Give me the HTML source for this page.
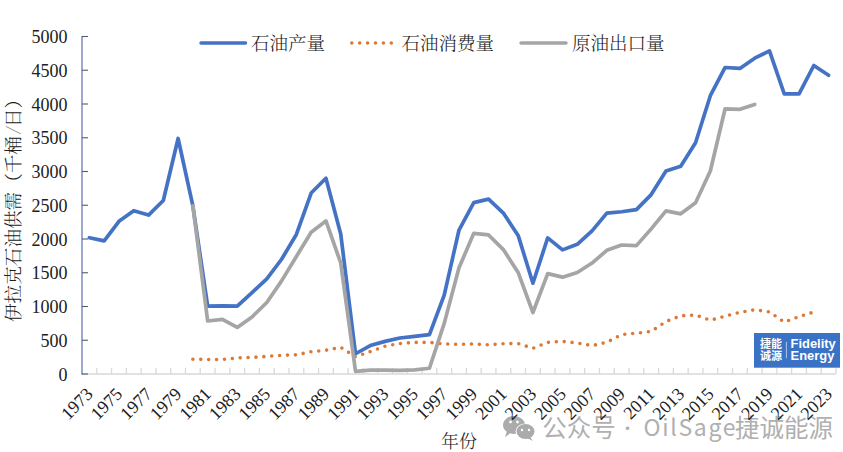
<!DOCTYPE html><html><head><meta charset="utf-8"><style>
html,body{margin:0;padding:0;background:#fff;}
body{width:843px;height:452px;overflow:hidden;position:relative;}
svg{position:absolute;left:0;top:0;}
.t{font-family:'Liberation Serif','Noto Serif CJK SC',serif;fill:#202020;}
.l{font-weight:300;}
</style></head><body>
<svg width="843" height="452" viewBox="0 0 843 452">
<g id="wm" fill="#ababab">
<ellipse cx="514" cy="425" rx="11" ry="9"/>
<path d="M507 431 L505 437 L512 432 Z"/>
<ellipse cx="525.5" cy="431.5" rx="10" ry="8" fill="#fff"/>
<ellipse cx="525.5" cy="431.5" rx="9" ry="7.5"/>
<path d="M530 437 L533 441 L527 438 Z"/>
<circle cx="510.5" cy="422" r="1.4" fill="#fff"/><circle cx="517.5" cy="422" r="1.4" fill="#fff"/>
<circle cx="522" cy="430" r="1.2" fill="#fff"/><circle cx="529" cy="430" r="1.2" fill="#fff"/>
</g>
<g font-family="'Noto Sans CJK SC',sans-serif" fill="#b0b0b0">
<text x="542.3" y="436.6" font-size="24.5">公众号</text>
<text x="627.4" y="434.8" font-size="17" text-anchor="middle">·</text>
<text x="643.5" y="435.6" font-size="23" textLength="92" lengthAdjust="spacing">OilSage</text>
<text x="735" y="436.6" font-size="24.5">捷诚能源</text>
</g>
<g stroke="#D9D9D9" stroke-width="1.3">
<line x1="82" y1="374" x2="836" y2="374"/>
<line x1="96.78" y1="374" x2="96.78" y2="368"/>
<line x1="111.57" y1="374" x2="111.57" y2="368"/>
<line x1="126.35" y1="374" x2="126.35" y2="368"/>
<line x1="141.14" y1="374" x2="141.14" y2="368"/>
<line x1="155.92" y1="374" x2="155.92" y2="368"/>
<line x1="170.71" y1="374" x2="170.71" y2="368"/>
<line x1="185.49" y1="374" x2="185.49" y2="368"/>
<line x1="200.27" y1="374" x2="200.27" y2="368"/>
<line x1="215.06" y1="374" x2="215.06" y2="368"/>
<line x1="229.84" y1="374" x2="229.84" y2="368"/>
<line x1="244.63" y1="374" x2="244.63" y2="368"/>
<line x1="259.41" y1="374" x2="259.41" y2="368"/>
<line x1="274.20" y1="374" x2="274.20" y2="368"/>
<line x1="288.98" y1="374" x2="288.98" y2="368"/>
<line x1="303.76" y1="374" x2="303.76" y2="368"/>
<line x1="318.55" y1="374" x2="318.55" y2="368"/>
<line x1="333.33" y1="374" x2="333.33" y2="368"/>
<line x1="348.12" y1="374" x2="348.12" y2="368"/>
<line x1="362.90" y1="374" x2="362.90" y2="368"/>
<line x1="377.69" y1="374" x2="377.69" y2="368"/>
<line x1="392.47" y1="374" x2="392.47" y2="368"/>
<line x1="407.25" y1="374" x2="407.25" y2="368"/>
<line x1="422.04" y1="374" x2="422.04" y2="368"/>
<line x1="436.82" y1="374" x2="436.82" y2="368"/>
<line x1="451.61" y1="374" x2="451.61" y2="368"/>
<line x1="466.39" y1="374" x2="466.39" y2="368"/>
<line x1="481.18" y1="374" x2="481.18" y2="368"/>
<line x1="495.96" y1="374" x2="495.96" y2="368"/>
<line x1="510.75" y1="374" x2="510.75" y2="368"/>
<line x1="525.53" y1="374" x2="525.53" y2="368"/>
<line x1="540.31" y1="374" x2="540.31" y2="368"/>
<line x1="555.10" y1="374" x2="555.10" y2="368"/>
<line x1="569.88" y1="374" x2="569.88" y2="368"/>
<line x1="584.67" y1="374" x2="584.67" y2="368"/>
<line x1="599.45" y1="374" x2="599.45" y2="368"/>
<line x1="614.24" y1="374" x2="614.24" y2="368"/>
<line x1="629.02" y1="374" x2="629.02" y2="368"/>
<line x1="643.80" y1="374" x2="643.80" y2="368"/>
<line x1="658.59" y1="374" x2="658.59" y2="368"/>
<line x1="673.37" y1="374" x2="673.37" y2="368"/>
<line x1="688.16" y1="374" x2="688.16" y2="368"/>
<line x1="702.94" y1="374" x2="702.94" y2="368"/>
<line x1="717.73" y1="374" x2="717.73" y2="368"/>
<line x1="732.51" y1="374" x2="732.51" y2="368"/>
<line x1="747.29" y1="374" x2="747.29" y2="368"/>
<line x1="762.08" y1="374" x2="762.08" y2="368"/>
<line x1="776.86" y1="374" x2="776.86" y2="368"/>
<line x1="791.65" y1="374" x2="791.65" y2="368"/>
<line x1="806.43" y1="374" x2="806.43" y2="368"/>
<line x1="821.22" y1="374" x2="821.22" y2="368"/>
<line x1="836.00" y1="374" x2="836.00" y2="368"/>
</g>
<line x1="82" y1="36" x2="82" y2="374.8" stroke="#9CA8CC" stroke-width="2"/>
<g stroke="#505c78" stroke-width="1.1">
<line x1="82" y1="374.00" x2="88" y2="374.00"/>
<line x1="82" y1="340.25" x2="88" y2="340.25"/>
<line x1="82" y1="306.50" x2="88" y2="306.50"/>
<line x1="82" y1="272.75" x2="88" y2="272.75"/>
<line x1="82" y1="239.00" x2="88" y2="239.00"/>
<line x1="82" y1="205.25" x2="88" y2="205.25"/>
<line x1="82" y1="171.50" x2="88" y2="171.50"/>
<line x1="82" y1="137.75" x2="88" y2="137.75"/>
<line x1="82" y1="104.00" x2="88" y2="104.00"/>
<line x1="82" y1="70.25" x2="88" y2="70.25"/>
<line x1="82" y1="36.50" x2="88" y2="36.50"/>
</g>
<g class="t" font-size="18" text-anchor="end">
<text x="67.5" y="380.60">0</text>
<text x="67.5" y="346.85">500</text>
<text x="67.5" y="313.10">1000</text>
<text x="67.5" y="279.35">1500</text>
<text x="67.5" y="245.60">2000</text>
<text x="67.5" y="211.85">2500</text>
<text x="67.5" y="178.10">3000</text>
<text x="67.5" y="144.35">3500</text>
<text x="67.5" y="110.60">4000</text>
<text x="67.5" y="76.85">4500</text>
<text x="67.5" y="43.10">5000</text>
</g>
<text class="t l" font-size="18.6" transform="translate(20.3,322) rotate(-90)">伊拉克石油供需（千桶<tspan dx="8.97">日）</tspan></text>
<text class="t l" font-size="18.6" transform="translate(20.3,134.3) rotate(-90) scale(0.45,0.9)">／</text>
<g class="t" font-size="18" text-anchor="end">
<text transform="translate(93.89,395.2) rotate(-45)">1973</text>
<text transform="translate(123.46,395.2) rotate(-45)">1975</text>
<text transform="translate(153.03,395.2) rotate(-45)">1977</text>
<text transform="translate(182.60,395.2) rotate(-45)">1979</text>
<text transform="translate(212.17,395.2) rotate(-45)">1981</text>
<text transform="translate(241.74,395.2) rotate(-45)">1983</text>
<text transform="translate(271.30,395.2) rotate(-45)">1985</text>
<text transform="translate(300.87,395.2) rotate(-45)">1987</text>
<text transform="translate(330.44,395.2) rotate(-45)">1989</text>
<text transform="translate(360.01,395.2) rotate(-45)">1991</text>
<text transform="translate(389.58,395.2) rotate(-45)">1993</text>
<text transform="translate(419.15,395.2) rotate(-45)">1995</text>
<text transform="translate(448.72,395.2) rotate(-45)">1997</text>
<text transform="translate(478.28,395.2) rotate(-45)">1999</text>
<text transform="translate(507.85,395.2) rotate(-45)">2001</text>
<text transform="translate(537.42,395.2) rotate(-45)">2003</text>
<text transform="translate(566.99,395.2) rotate(-45)">2005</text>
<text transform="translate(596.56,395.2) rotate(-45)">2007</text>
<text transform="translate(626.13,395.2) rotate(-45)">2009</text>
<text transform="translate(655.70,395.2) rotate(-45)">2011</text>
<text transform="translate(685.26,395.2) rotate(-45)">2013</text>
<text transform="translate(714.83,395.2) rotate(-45)">2015</text>
<text transform="translate(744.40,395.2) rotate(-45)">2017</text>
<text transform="translate(773.97,395.2) rotate(-45)">2019</text>
<text transform="translate(803.54,395.2) rotate(-45)">2021</text>
<text transform="translate(833.11,395.2) rotate(-45)">2023</text>
</g>
<text class="t l" x="441" y="448" font-size="18">年份</text>
<polyline points="89.39,237.72 104.18,240.82 118.96,221.31 133.75,210.72 148.53,215.10 163.31,200.52 178.10,138.49 192.88,205.92 207.67,306.16 222.45,305.82 237.24,306.16 252.02,292.60 266.80,278.82 281.59,259.25 296.37,234.48 311.16,193.03 325.94,178.25 340.73,233.94 355.51,353.75 370.29,345.58 385.08,341.40 399.86,338.02 414.65,336.33 429.43,334.71 444.22,295.09 459.00,230.02 473.78,202.62 488.57,199.17 503.35,213.08 518.14,235.42 532.92,283.21 547.71,237.92 562.49,249.87 577.27,244.33 592.06,230.83 606.84,213.08 621.63,211.73 636.41,209.64 651.20,194.58 665.98,171.03 680.76,166.17 695.55,142.81 710.33,95.70 725.12,67.48 739.90,68.43 754.69,58.17 769.47,50.88 784.25,93.88 799.04,93.88 813.82,65.52 828.61,75.18" fill="none" stroke="#4472C4" stroke-width="3.7" stroke-linejoin="round" stroke-linecap="round"/>
<polyline points="192.88,359.22 207.67,359.49 222.45,359.49 237.24,357.94 252.02,357.39 266.80,356.45 281.59,355.30 296.37,354.83 311.16,351.73 325.94,350.24 340.73,347.34 355.51,356.79 370.29,351.59 385.08,346.19 399.86,343.49 414.65,342.41 429.43,342.41 444.22,343.89 459.00,344.30 473.78,344.03 488.57,344.84 503.35,343.69 518.14,343.49 532.92,348.35 547.71,342.41 562.49,341.40 577.27,342.95 592.06,345.65 606.84,342.27 621.63,334.51 636.41,333.16 651.20,331.48 665.98,321.49 680.76,315.81 695.55,315.07 710.33,320.20 725.12,316.22 739.90,312.31 754.69,309.74 769.47,311.97 784.25,322.16 799.04,316.69 813.82,311.97" fill="none" stroke="#DD7835" stroke-width="3.6" stroke-dasharray="0 7.9" stroke-linecap="round" stroke-linejoin="round"/>
<polyline points="192.88,205.92 207.67,321.01 222.45,319.32 237.24,327.43 252.02,316.96 266.80,302.45 281.59,280.85 296.37,256.55 311.16,232.25 325.94,220.91 340.73,262.96 355.51,371.30 370.29,370.15 385.08,370.15 399.86,370.29 414.65,369.95 429.43,368.26 444.22,323.38 459.00,267.82 473.78,233.33 488.57,234.95 503.35,249.60 518.14,272.48 532.92,312.51 547.71,273.63 562.49,277.14 577.27,272.48 592.06,263.03 606.84,250.34 621.63,245.01 636.41,245.61 651.20,228.88 665.98,210.92 680.76,213.82 695.55,202.69 710.33,171.03 725.12,108.79 739.90,109.33 754.69,104.40" fill="none" stroke="#A5A5A5" stroke-width="3.7" stroke-linejoin="round" stroke-linecap="round"/>
<line x1="201" y1="43" x2="245.5" y2="43" stroke="#4472C4" stroke-width="3.4" stroke-linecap="round"/>
<text class="t l" x="251" y="49.7" font-size="18.5">石油产量</text>
<line x1="351.8" y1="43" x2="392.5" y2="43" stroke="#DD7835" stroke-width="3.6" stroke-dasharray="0 7.9" stroke-linecap="round"/>
<text class="t l" x="401.5" y="49.7" font-size="18.5">石油消费量</text>
<line x1="521" y1="43" x2="566" y2="43" stroke="#A5A5A5" stroke-width="3.4" stroke-linecap="round"/>
<text class="t l" x="572" y="49.7" font-size="18.5">原油出口量</text>
<rect x="754" y="333" width="86" height="34.7" fill="#3A72C6"/>
<g fill="#fff" font-family="'Noto Sans CJK SC',sans-serif" font-weight="700" font-size="11">
<text x="760" y="347.5">捷能</text><text x="760" y="359.8">诚源</text></g>
<line x1="786.4" y1="341.8" x2="786.4" y2="358.3" stroke="#cfdcf2" stroke-width="0.8"/>
<g fill="#fff" font-family="'Liberation Sans',sans-serif" font-weight="700" font-size="12.9">
<text x="790.6" y="348">Fidelity</text><text x="790.6" y="360.3">Energy</text></g>
</svg></body></html>
